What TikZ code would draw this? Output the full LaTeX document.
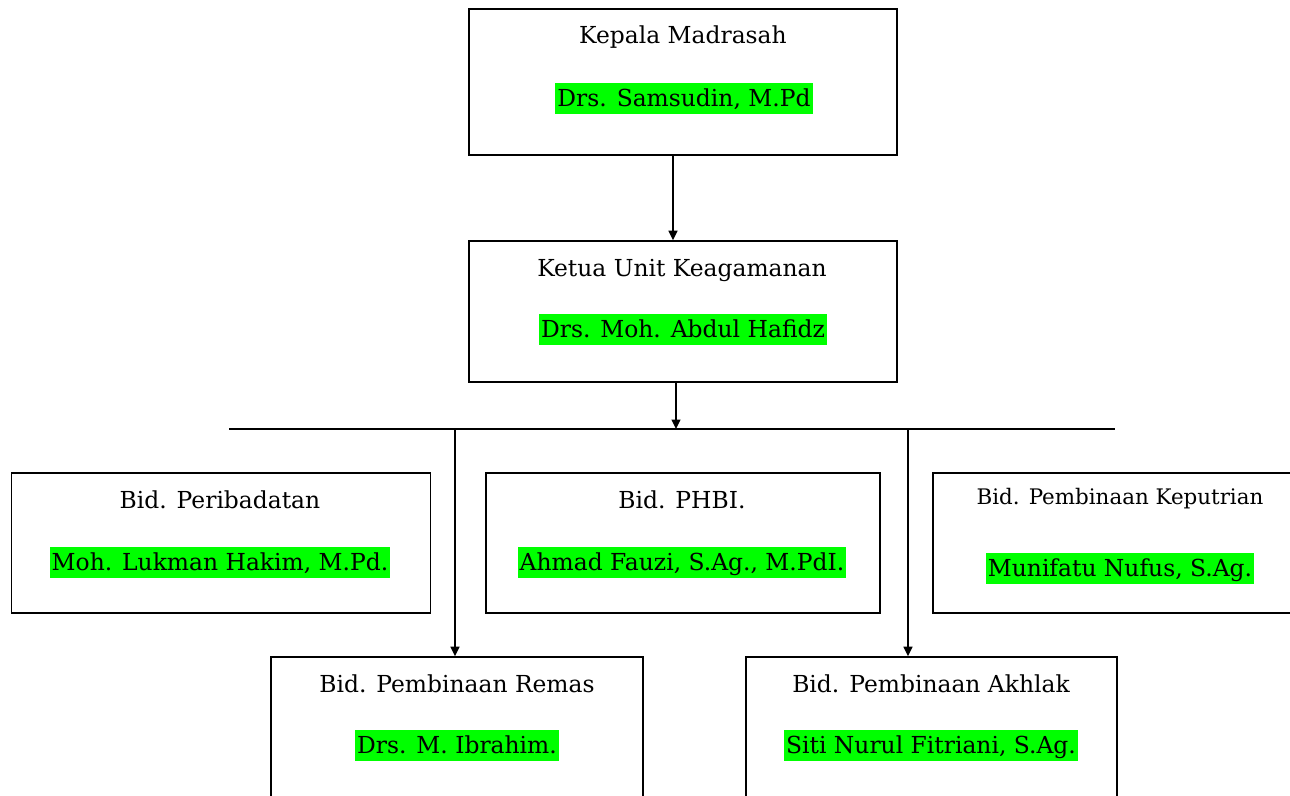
\documentclass[tikz,border=0pt]{standalone}
\usepackage{fontspec}
\setmainfont{DejaVu Serif}
\usetikzlibrary{arrows.meta,calc}
\definecolor{hl}{RGB}{0,255,0}
\begin{document}
\begin{tikzpicture}[x=1pt,y=-1pt,
  orgbox/.style={draw=black,line width=1.7pt,fill=none,inner sep=0pt},
  ttl/.style={anchor=base,inner sep=0pt,font=\fontsize{23.4}{28}\selectfont},
  nm/.style={anchor=base,fill=hl,inner xsep=2pt,inner ysep=2pt,text height=21pt,text depth=6pt,font=\fontsize{23.4}{28}\selectfont},
  arr/.style={line width=1.6pt,-{Triangle[length=9.5pt,width=9pt]}},
  bus/.style={line width=1.4pt}]
\useasboundingbox (0,0) rectangle (1290,795);
\clip (0,0) rectangle (1290,795);
% boxes
\node[orgbox,minimum width=428pt,minimum height=146pt] (kepala) at (683,82) {};
\node[orgbox,minimum width=428pt,minimum height=141pt] (ketua) at (683,311.5) {};
\node[orgbox,minimum width=419pt,minimum height=140pt] (perib) at (221,543) {};
\node[orgbox,minimum width=394pt,minimum height=140pt] (phbi) at (683,543) {};
\node[orgbox,minimum width=374pt,minimum height=140pt] (keput) at (1120,543) {};
\node[orgbox,minimum width=372pt,minimum height=160pt] (remas) at (457,737) {};
\node[orgbox,minimum width=371pt,minimum height=160pt] (akhlak) at (931.5,737) {};
% texts
\node[ttl] (t1) at (683,43) {Kepala Madrasah};
\node[nm] (n1) at (684,106) {Drs. Samsudin, M.Pd};
\node[ttl] (t2) at (682,276) {Ketua Unit Keagamanan};
\node[nm] (n2) at (683,337) {Drs. Moh. Abdul Hafidz};
\node[ttl] (t3) at (220,508) {Bid. Peribadatan};
\node[nm] (n3) at (220,570) {Moh. Lukman Hakim, M.Pd.};
\node[ttl] (t4) at (682,508) {Bid. PHBI.};
\node[nm] (n4) at (682,570) {Ahmad Fauzi, S.Ag., M.PdI.};
\node[ttl,font=\fontsize{21.4}{26}\selectfont] (t5) at (1120,504) {Bid. Pembinaan Keputrian};
\node[nm] (n5) at (1120,576) {Munifatu Nufus, S.Ag.};
\node[ttl] (t6) at (457,692) {Bid. Pembinaan Remas};
\node[nm] (n6) at (457,753) {Drs. M. Ibrahim.};
\node[ttl] (t7) at (931,692) {Bid. Pembinaan Akhlak};
\node[nm] (n7) at (931,753) {Siti Nurul Fitriani, S.Ag.};
% connectors
\coordinate (a1) at (673,0);
\coordinate (a2) at (676,0);
\coordinate (d1) at (455,0);
\coordinate (d2) at (908,0);
\coordinate (busL) at (229,429);
\coordinate (busR) at (1115,429);
\draw[bus] (busL) -- (busR);
\draw[arr] (kepala.south -| a1) -- (ketua.north -| a1);
\draw[arr] (ketua.south -| a2) -- (busL -| a2);
\draw[arr] (busL -| d1) -- (remas.north -| d1);
\draw[arr] (busL -| d2) -- (akhlak.north -| d2);
\end{tikzpicture}
\end{document}
